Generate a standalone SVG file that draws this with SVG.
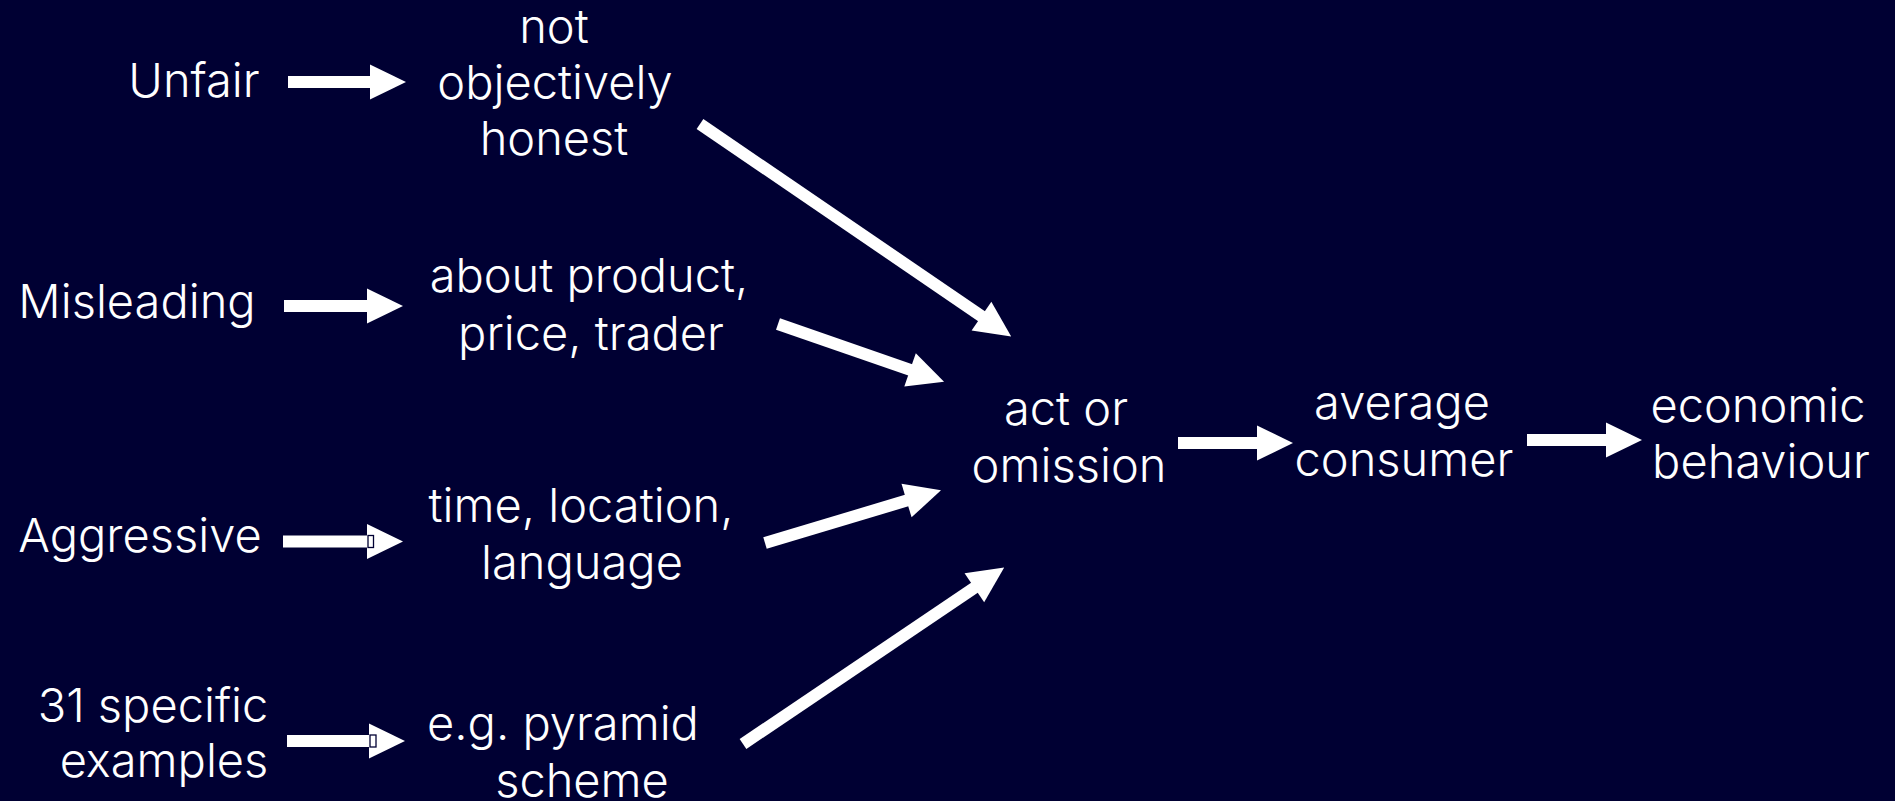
<svg xmlns="http://www.w3.org/2000/svg" width="1895" height="801" viewBox="0 0 1895 801">
  <style>
    .t { font-family: Inter, "Open Sans", "DejaVu Sans", sans-serif; font-size: 47px; font-weight: 300; fill: #ffffff; text-anchor: middle; }
    .c { stroke: #ffffff; stroke-width: 12; fill: none; }
    .notch { fill: #ffffff; stroke: #000033; stroke-width: 1.3; }
  </style>
  <defs>
    <marker id="ah" markerUnits="userSpaceOnUse" markerWidth="37" markerHeight="36" refX="1" refY="17.5" orient="auto" overflow="visible">
      <path d="M0,0 L36,17.5 L0,35 Z" fill="#ffffff"/>
    </marker>
  </defs>
  <rect x="0" y="0" width="1895" height="801" fill="#000033"/>

  <g id="connectors">
    <line class="c" x1="288" y1="82" x2="371" y2="82" marker-end="url(#ah)"/>
    <line class="c" x1="284" y1="306" x2="368" y2="306" marker-end="url(#ah)"/>
    <line class="c" x1="283" y1="541.5" x2="368" y2="541.5" marker-end="url(#ah)"/>
    <rect class="notch" x="368" y="535.5" width="5.5" height="12"/>
    <line class="c" x1="287" y1="741" x2="370" y2="741" marker-end="url(#ah)"/>
    <rect class="notch" x="370" y="735" width="6" height="12"/>
    <line class="c" x1="700" y1="124" x2="982.3" y2="316.7" marker-end="url(#ah)"/>
    <line class="c" x1="778" y1="324" x2="911" y2="370.2" marker-end="url(#ah)"/>
    <line class="c" x1="765" y1="543" x2="907.5" y2="500.3" marker-end="url(#ah)"/>
    <line class="c" x1="743" y1="744" x2="975.2" y2="587.2" marker-end="url(#ah)"/>
    <line class="c" x1="1178" y1="443" x2="1258" y2="443" marker-end="url(#ah)"/>
    <line class="c" x1="1527" y1="440" x2="1607" y2="440" marker-end="url(#ah)"/>
  </g>

  <g id="unfair"><text class="t" x="194" y="97">Unfair</text></g>
  <g id="not-objectively-honest">
    <text class="t" x="554" y="43">not</text>
    <text class="t" x="555" y="98.5">objectively</text>
    <text class="t" x="554" y="155">honest</text>
  </g>
  <g id="misleading"><text class="t" x="137" y="318">Misleading</text></g>
  <g id="about-product">
    <text class="t" x="589" y="292">about product,</text>
    <text class="t" x="591" y="350">price, trader</text>
  </g>
  <g id="aggressive"><text class="t" x="140" y="552">Aggressive</text></g>
  <g id="time-location">
    <text class="t" x="581" y="522">time, location,</text>
    <text class="t" x="582" y="579">language</text>
  </g>
  <g id="specific-examples">
    <text class="t" x="153" y="722">31 specific</text>
    <text class="t" x="164" y="777">examples</text>
  </g>
  <g id="pyramid">
    <text class="t" x="563" y="740">e.g. pyramid</text>
    <text class="t" x="582" y="797">scheme</text>
  </g>
  <g id="act-omission">
    <text class="t" x="1066" y="425">act or</text>
    <text class="t" x="1069" y="482">omission</text>
  </g>
  <g id="average-consumer">
    <text class="t" x="1402" y="419">average</text>
    <text class="t" x="1404" y="476">consumer</text>
  </g>
  <g id="economic-behaviour">
    <text class="t" x="1758" y="422">economic</text>
    <text class="t" x="1761" y="478">behaviour</text>
  </g>
</svg>
